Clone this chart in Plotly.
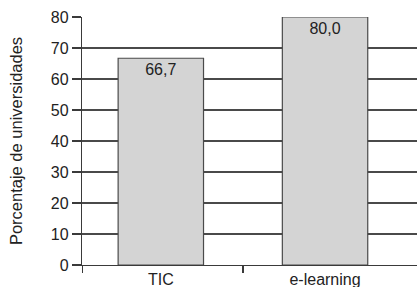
import plotly.graph_objects as go

categories = ["TIC", "e-learning"]
values = [66.7, 80.0]
y_ticks = [0, 10, 20, 30, 40, 50, 60, 70, 80]

xpos = list(range(len(categories)))

fig = go.Figure(go.Bar(
    x=xpos,
    y=values,
    width=0.52,
    marker=dict(color="#d4d4d4", line=dict(color="#4a4a4a", width=1.2)),
    texttemplate="%{y:.1f}",
    textposition="inside",
    insidetextanchor="end",
    textfont=dict(family="Liberation Sans, Arial", size=16, color="#222222"),
    cliponaxis=False,
))

fig.update_layout(
    width=417, height=287,
    margin=dict(l=82, r=0, t=17, b=22),
    paper_bgcolor="white", plot_bgcolor="white",
    separators=",.",
    showlegend=False,
    font=dict(family="Liberation Sans, Arial", size=16, color="#222222"),
)

fig.update_xaxes(
    range=[-0.48, 1.56],
    automargin=False,
    tickvals=xpos, ticktext=categories,
    ticks="", showgrid=False, zeroline=False,
    showline=True, linecolor="#3a3a3a", linewidth=1.2,
    tickfont=dict(size=16, color="#222222"),
    minor=dict(tickvals=[-0.479, 0.5], ticks="outside", ticklen=7,
               tickcolor="#3a3a3a", tickwidth=1.2, showgrid=False),
)

fig.update_yaxes(
    range=[0, 80],
    automargin=False,
    tickvals=y_ticks,
    ticks="outside", ticklen=9, tickcolor="#3a3a3a", tickwidth=1.2,
    showgrid=True, gridcolor="#4a4a4a", gridwidth=1.2,
    zeroline=False,
    showline=True, linecolor="#3a3a3a", linewidth=1.2,
    tickfont=dict(size=16, color="#222222"),
    title=dict(text="Porcentaje de universidades", font=dict(size=16.5, color="#222222"), standoff=24),
)

fig.write_html(
    "out.html",
    config={"displayModeBar": False, "staticPlot": True},
    post_script="document.body.style.margin='0';document.body.style.overflow='hidden';",
)
